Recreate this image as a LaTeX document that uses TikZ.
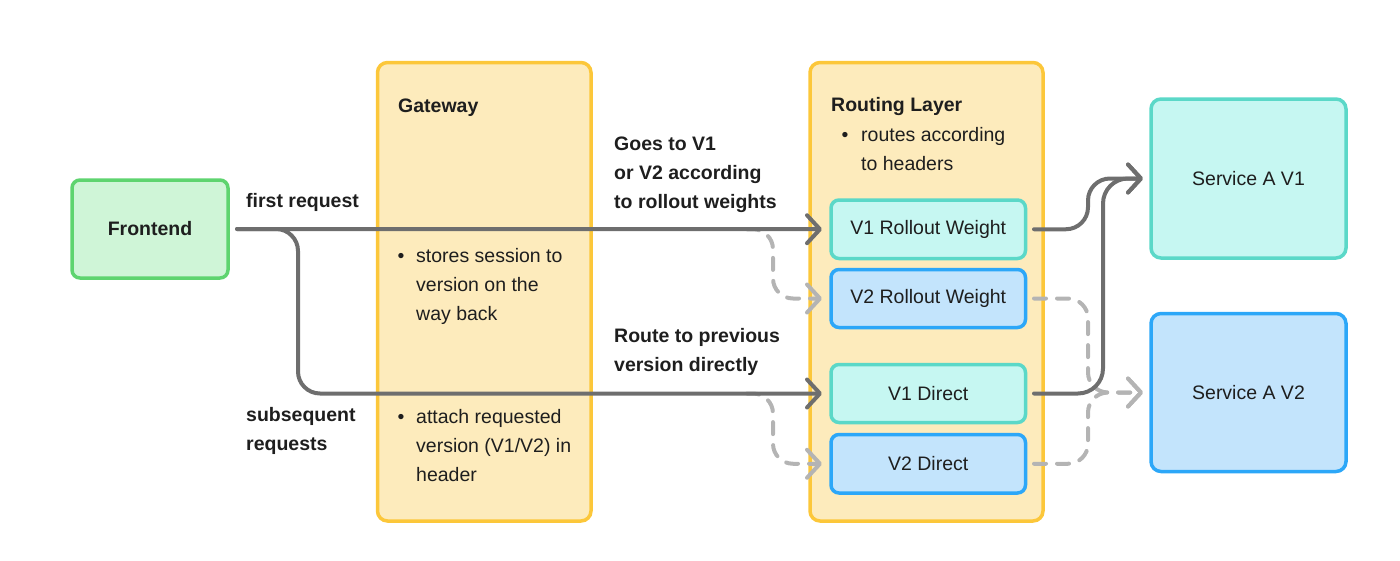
\documentclass[tikz,border=0pt]{standalone}
\usepackage{fontspec}
\setmainfont{Liberation Sans}
\usetikzlibrary{arrows.meta}
\definecolor{txt}{HTML}{1E1E1E}
\definecolor{grnfill}{HTML}{CFF5D7}
\definecolor{grnline}{HTML}{5ED46F}
\definecolor{ylwfill}{HTML}{FDEBBC}
\definecolor{ylwline}{HTML}{FCC73A}
\definecolor{tealfill}{HTML}{C6F7F2}
\definecolor{tealline}{HTML}{5BD8C8}
\definecolor{bluefill}{HTML}{C3E4FC}
\definecolor{blueline}{HTML}{2CA7F8}
\definecolor{darkarrow}{HTML}{6E6E6E}
\definecolor{lightarrow}{HTML}{B4B4B4}
\tikzset{
  basefont/.style={font=\fontsize{19.5}{24}\selectfont},
  box/.style={draw, line width=3.5pt, rounded corners=8pt, inner sep=0pt, outer sep=0pt,
    text=txt, basefont},
  greenbox/.style={box, fill=grnfill, draw=grnline},
  yellowbox/.style={box, fill=ylwfill, draw=ylwline, rounded corners=10pt},
  tealbox/.style={box, fill=tealfill, draw=tealline},
  bluebox/.style={box, fill=bluefill, draw=blueline},
  lbl/.style={anchor=base west, inner sep=0pt, text=txt, basefont},
  blbl/.style={lbl, font=\fontsize{19.5}{24}\selectfont\bfseries},
  bul/.style={anchor=base, inner sep=0pt, text=txt, basefont},
  mainline/.style={draw=darkarrow, line width=4pt, line cap=round, line join=round,
    -{Straight Barb[length=13pt,width=28pt,round]}},
  altline/.style={draw=lightarrow, line width=4pt, line cap=round, line join=round,
    dash pattern=on 12pt off 11pt,
    -{Straight Barb[length=13pt,width=28pt,round]}},
}
\begin{document}
\begin{tikzpicture}[x=1pt,y=-1pt]
\useasboundingbox (0,0) rectangle (1400,560);
% containers
\node[yellowbox, minimum width=213.5pt, minimum height=458.5pt] (gw) at (484.25,291.75) {};
\node[yellowbox, minimum width=233pt, minimum height=458.5pt] (rl) at (926.5,291.75) {};
% boxes
\node[greenbox, minimum width=156pt, minimum height=98pt, font=\fontsize{19.5}{24}\selectfont\bfseries] (fe) at (150,229) {Frontend};
\node[tealbox, minimum width=194.5pt, minimum height=58.5pt] (v1rw) at (928.25,229.25) {V1 Rollout Weight};
\node[bluebox, minimum width=194.5pt, minimum height=58pt] (v2rw) at (928.25,298.5) {V2 Rollout Weight};
\node[tealbox, minimum width=194.5pt, minimum height=58pt] (v1d) at (928.25,393.5) {V1 Direct};
\node[bluebox, minimum width=194.5pt, minimum height=58.5pt] (v2d) at (928.25,463.75) {V2 Direct};
\node[tealbox, minimum width=195pt, minimum height=159pt, rounded corners=10pt] (sv1) at (1248.5,178.5) {Service A V1};
\node[bluebox, minimum width=195pt, minimum height=158pt, rounded corners=10pt] (sv2) at (1248.5,392.5) {Service A V2};
% texts
\node[blbl] (t1) at (246,207) {first request};
\node[blbl] (t2) at (246,421.5) {subsequent};
\node[blbl] (t3) at (246,450.5) {requests};
\node[blbl] (t4) at (614,150) {Goes to V1};
\node[blbl] (t5) at (614,179.3) {or V2 according};
\node[blbl] (t6) at (614,208.5) {to rollout weights};
\node[blbl] (t7) at (614,342) {Route to previous};
\node[blbl] (t8) at (614,371) {version directly};
\node[blbl] (gwt) at (398,112) {Gateway};
\node[bul] (gb1) at (401,262) {•};
\node[lbl] (g1) at (416,262) {stores session to};
\node[lbl] (g2) at (416,291.3) {version on the};
\node[lbl] (g3) at (416,320.6) {way back};
\node[bul] (gb2) at (401,423) {•};
\node[lbl] (g4) at (416,423) {attach requested};
\node[lbl] (g5) at (416,452.4) {version (V1/V2) in};
\node[lbl] (g6) at (416,481.8) {header};
\node[blbl] (rlt) at (831,111.7) {Routing Layer};
\node[bul] (rb1) at (845,141) {•};
\node[lbl] (r1) at (861,141) {routes according};
\node[lbl] (r2) at (861,170) {to headers};
% connectors
\coordinate (fs) at ([xshift=9pt]fe.east);
\coordinate (d1s) at (747,229.25);
\coordinate (d2s) at (747,393.5);
\draw[altline, rounded corners=20pt, shorten >=9pt] (d1s) -- (773,229.25) |- (v2rw.west);
\draw[altline, rounded corners=20pt, shorten >=9pt] (d2s) -- (773,393.5) |- (v2d.west);
\draw[mainline, shorten >=9pt] (fs) -- (v1rw.west);
\draw[mainline, rounded corners=22pt, shorten >=9pt] (fs) -- ++(61,0) |- (v1d.west);
\draw[altline, rounded corners=20pt, shorten <=8.5pt, shorten >=8pt] (v2rw.east) -- ++(62.5,0) |- (sv2.west);
\draw[altline, rounded corners=20pt, shorten <=8.5pt, shorten >=8pt] (v2d.east) -- ++(62.5,0) |- (sv2.west);
\draw[mainline, rounded corners=22pt, shorten <=8.5pt, shorten >=8pt] (v1rw.east) -- ++(62.5,0) |- (sv1.west);
\draw[mainline, rounded corners=25pt, shorten <=8.5pt, shorten >=8pt] (v1d.east) -- ++(77.5,0) |- (sv1.west);
\end{tikzpicture}
\end{document}
